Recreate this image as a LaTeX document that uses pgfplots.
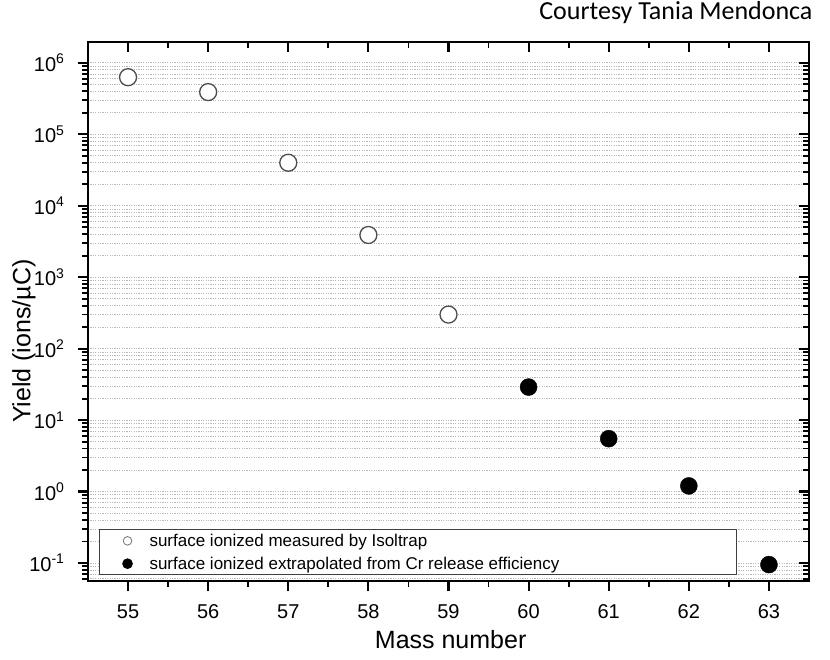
\documentclass[border=0pt]{standalone}
\usepackage{fontspec}
\setmainfont{Liberation Sans}
\newfontfamily\calfont{Carlito}
\usepackage{pgfplots}
\pgfplotsset{compat=1.18}
\begin{document}
\begin{tikzpicture}[x=1pt,y=1pt]
\useasboundingbox (0,0) rectangle (830,659);
\begin{axis}[
    scale only axis, width=721pt, height=539pt,
    at={(88pt,78pt)}, anchor=south west,
    xmin=54.5, xmax=63.5, ymode=log, ymin=0.056, ymax=1.96e6,
    xtick={55,56,57,58,59,60,61,62,63},
    minor xtick={55.5,56.5,57.5,58.5,59.5,60.5,61.5,62.5},
    ytick={0.1,1,10,100,1000,10000,100000,1000000},
    minor ytick={0.06,0.07,0.08,0.09,
      0.2,0.3,0.4,0.5,0.6,0.7,0.8,0.9,
      2,3,4,5,6,7,8,9,
      20,30,40,50,60,70,80,90,
      200,300,400,500,600,700,800,900,
      2000,3000,4000,5000,6000,7000,8000,9000,
      20000,30000,40000,50000,60000,70000,80000,90000,
      200000,300000,400000,500000,600000,700000,800000,900000},
    axis line style={line width=2.5pt, line cap=rect},
    major tick length=10pt, minor tick length=6pt,
    every major tick/.append style={line width=2.2pt, black},
    every minor tick/.append style={line width=1.8pt, black},
    tick align=outside, xtick pos=left, ytick pos=left,
    ymajorgrids, yminorgrids,
    every major grid/.style={gray!55, line width=0.8pt, dash pattern=on 1.2pt off 1.2pt},
    every minor grid/.style={gray!55, line width=0.8pt, dash pattern=on 1.2pt off 1.2pt},
    yticklabels={10\textsuperscript{-1},10\textsuperscript{0},10\textsuperscript{1},10\textsuperscript{2},10\textsuperscript{3},10\textsuperscript{4},10\textsuperscript{5},10\textsuperscript{6}},
    /pgf/number format/assume math mode=true,
    tick label style={font=\fontsize{20}{24}\selectfont},
    xticklabel style={yshift=-10pt},
    yticklabel style={xshift=-10pt},
    xlabel={Mass number},
    ylabel={Yield (ions/µC)},
    every axis x label/.style={at={(axis description cs:0.503,-0.109)}, anchor=center, font=\fontsize{25}{29}\selectfont},
    every axis y label/.style={at={(axis description cs:-0.0888,0.445)}, anchor=center, rotate=90, font=\fontsize{25}{29}\selectfont},
    legend cell align=left,
    legend style={at={(axis description cs:0.0153,0.011)}, anchor=south west,
      draw=black!75, line width=1pt, fill=white,
      font=\fontsize{17}{20}\selectfont, row sep=5pt},
  ]
\addplot[only marks, mark=*, mark size=8.5pt,
  mark options={fill=white, draw=black!70, line width=1.3pt},
  legend image code/.code={\path[draw=none,fill=none] (0pt,0pt) rectangle (45pt,0pt);\draw[black!55, fill=white, line width=0.8pt] (25pt,0pt) circle (4.3pt);}]
  coordinates {(55,6.3e5) (56,3.9e5) (57,4e4) (58,3.9e3) (59,300)};
\addlegendentry{\makebox[582pt][l]{surface ionized measured by Isoltrap}}
\addplot[only marks, mark=*, mark size=8.5pt, black,
  legend image code/.code={\path[draw=none,fill=none] (0pt,0pt) rectangle (45pt,0pt);\fill[black] (25pt,0pt) circle (4.8pt);}]
  coordinates {(60,29) (61,5.5) (62,1.2) (63,0.095)};
\addlegendentry{\makebox[582pt][l]{surface ionized extrapolated from Cr release efficiency}}
\end{axis}
\begin{axis}[
    scale only axis, width=721pt, height=539pt,
    at={(88pt,78pt)}, anchor=south west,
    xmin=54.5, xmax=63.5, ymode=log, ymin=0.056, ymax=1.96e6,
    xtick={55,56,57,58,59,60,61,62,63},
    minor xtick={55.5,56.5,57.5,58.5,59.5,60.5,61.5,62.5},
    ytick={0.1,1,10,100,1000,10000,100000,1000000},
    minor ytick={0.06,0.07,0.08,0.09,
      0.2,0.3,0.4,0.5,0.6,0.7,0.8,0.9,
      2,3,4,5,6,7,8,9,
      20,30,40,50,60,70,80,90,
      200,300,400,500,600,700,800,900,
      2000,3000,4000,5000,6000,7000,8000,9000,
      20000,30000,40000,50000,60000,70000,80000,90000,
      200000,300000,400000,500000,600000,700000,800000,900000},
    axis line style={line width=2.5pt, line cap=rect},
    major tick length=10pt, minor tick length=6pt,
    every major tick/.append style={line width=2.2pt, black},
    every minor tick/.append style={line width=1.8pt, black},
    tick align=inside, xtick pos=right, ytick pos=right,
    xticklabels={}, yticklabels={},
  ]
\addplot[draw=none, forget plot] coordinates {(55,1) (63,10)};
\end{axis}
\node[anchor=base east, font=\calfont\fontsize{26}{30}\selectfont] at (816,639) {Courtesy Tania Mendonca};
\end{tikzpicture}
\end{document}
